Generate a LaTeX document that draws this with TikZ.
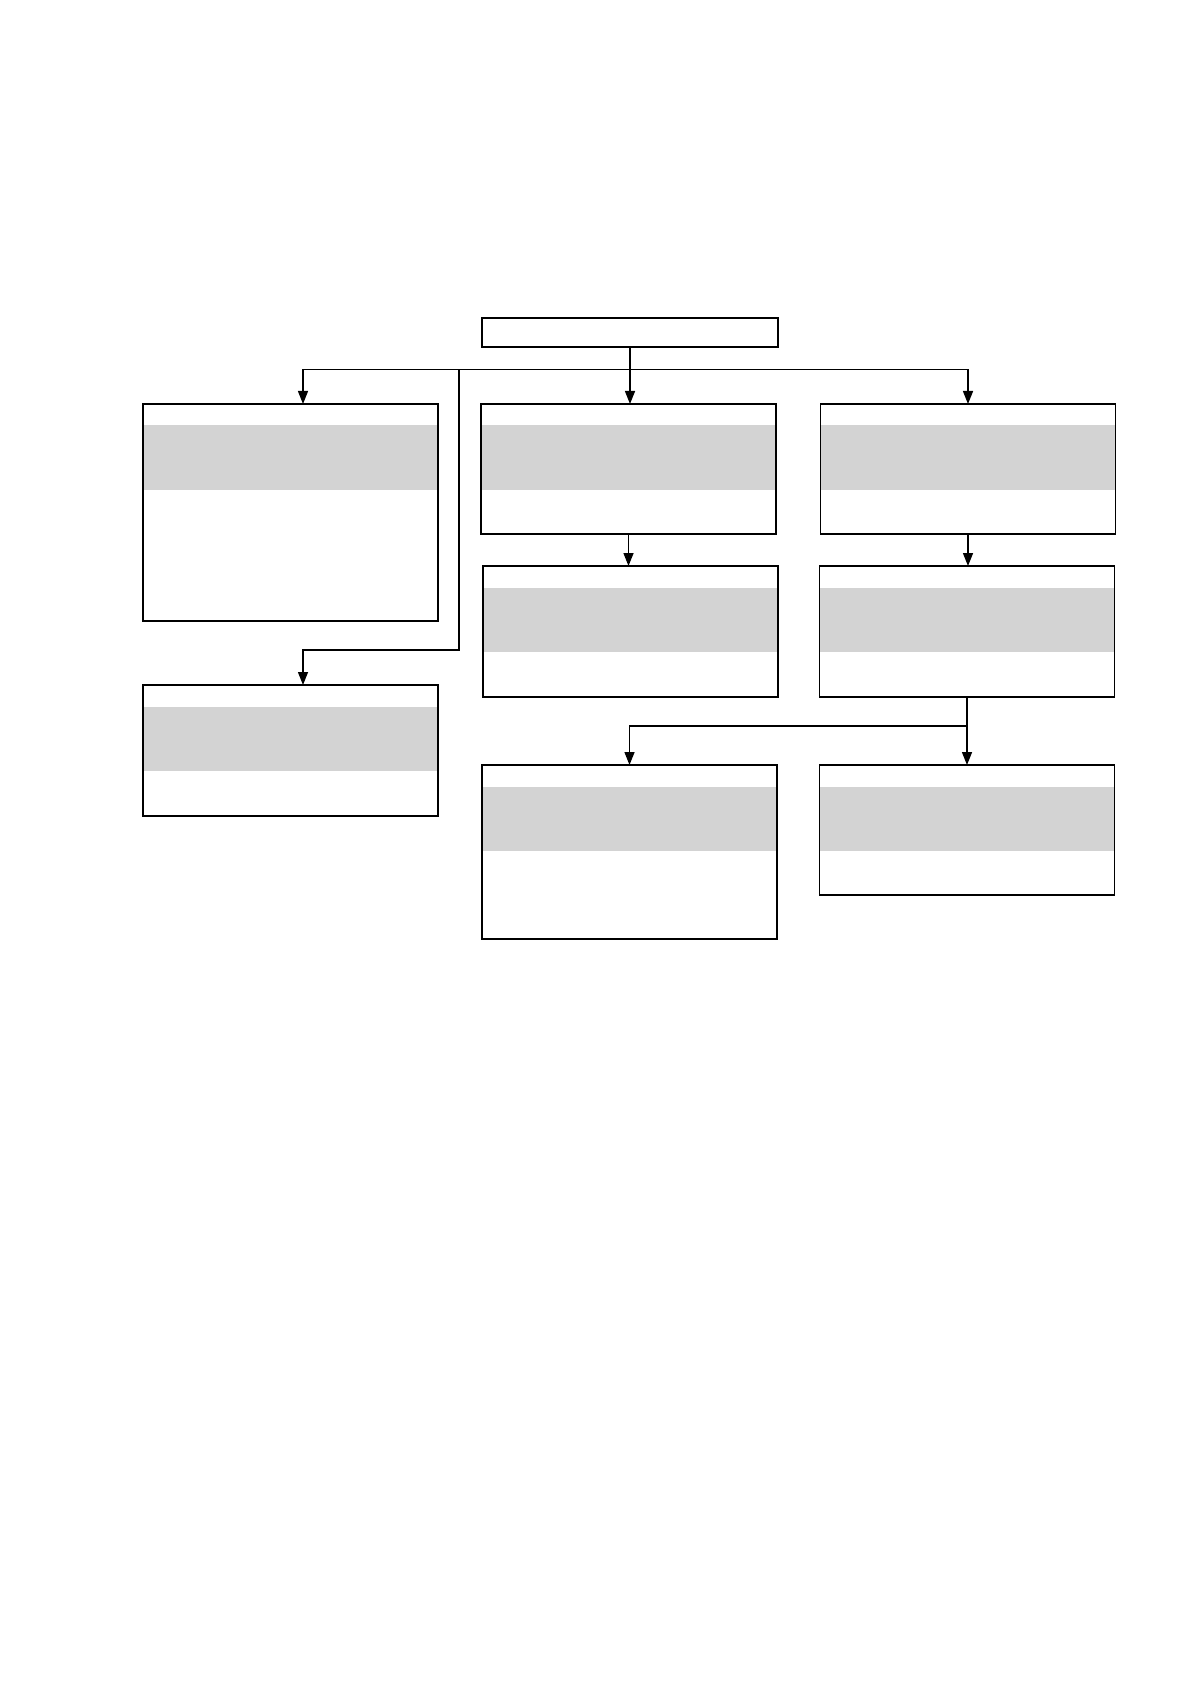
\documentclass[tikz,border=0pt]{standalone}
\usetikzlibrary{arrows.meta}
\definecolor{bandgray}{RGB}{211,211,211}
\tikzset{
  box/.style={draw=black, line width=0.9pt, fill=white, inner sep=0pt, outer sep=0pt,
    anchor=north west, minimum width=147.5pt},
  banded/.style={path picture={\fill[bandgray]
      ([yshift=-10.75pt]path picture bounding box.north west) rectangle
      ([yshift=-43pt]path picture bounding box.north east);}},
  conn/.style={draw=black, line width=0.7pt},
  arr/.style={conn, -{Triangle[length=6.5pt,width=5pt]}}
}
\begin{document}
\begin{tikzpicture}[x=0.5pt, y=-0.5pt]
\useasboundingbox (0,0) rectangle (1191,1684);
% nodes
\node[box, minimum width=148pt, minimum height=14.5pt] (top) at (482,318) {};
\node[box, banded, minimum height=108.5pt] (A) at (143,404) {};
\node[box, banded, minimum height=65pt] (B) at (481,404) {};
\node[box, banded, minimum height=65pt] (C) at (820.5,404) {};
\node[box, banded, minimum height=65.5pt] (D) at (483,566) {};
\node[box, banded, minimum height=65.5pt] (E) at (819.5,566) {};
\node[box, banded, minimum height=87pt] (F) at (482,765) {};
\node[box, banded, minimum height=65pt] (G) at (819.5,765) {};
\node[box, banded, minimum height=65.5pt] (H) at (143,685) {};
% junction coordinates
\coordinate (jl) at (303,369.5);
\coordinate (jb) at (459,369.5);
\coordinate (kb) at (459,650);
\coordinate (jr) at (C.north |- jl);
\coordinate (fm) at (626,726);
% connectors
\draw[conn] (jl) -- (jr);
\draw[arr] (top.south) -- (top.south |- B.north);
\draw[arr] (jl) -- (jl |- A.north);
\draw[arr] (jr) -- (C.north);
\draw[arr] (jb) -- (kb) -| (jl |- H.north);
\draw[arr] (B.south) -- (B.south |- D.north);
\draw[arr] (C.south) -- (C.south |- E.north);
\draw[arr] (E.south) -- (E.south |- G.north);
\draw[arr] (E.south |- fm) -| (F.north);
\end{tikzpicture}
\end{document}
